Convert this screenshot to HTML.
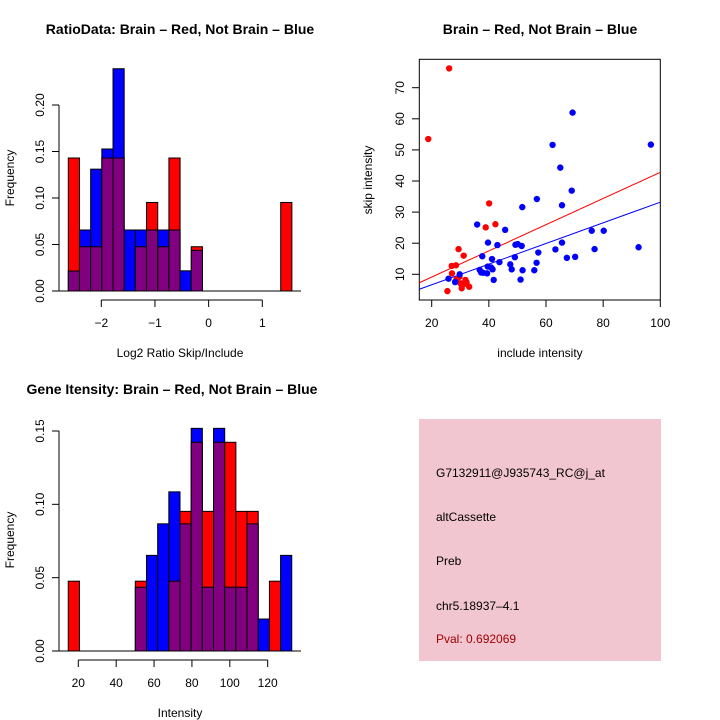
<!DOCTYPE html>
<html><head><meta charset="utf-8"><style>
html,body{margin:0;padding:0;background:#fff}
svg{display:block;font-family:"Liberation Sans",sans-serif}
</style></head><body>
<svg id="c" width="720" height="720" viewBox="0 0 720 720" xmlns="http://www.w3.org/2000/svg">
<rect width="720" height="720" fill="#fff"/>
<text x="180" y="34" text-anchor="middle" font-size="14" font-weight="bold">RatioData: Brain – Red, Not Brain – Blue</text>
<text x="540" y="34" text-anchor="middle" font-size="14" font-weight="bold">Brain – Red, Not Brain – Blue</text>
<text x="172" y="394" text-anchor="middle" font-size="14" font-weight="bold">Gene Itensity: Brain – Red, Not Brain – Blue</text>
<text x="180" y="357" text-anchor="middle" font-size="12">Log2 Ratio Skip/Include</text>
<text x="14" y="178" text-anchor="middle" font-size="12" transform="rotate(-90 14 178)">Frequency</text>
<text x="540" y="357" text-anchor="middle" font-size="12">include intensity</text>
<text x="372" y="180" text-anchor="middle" font-size="12" transform="rotate(-90 372 180)">skip intensity</text>
<text x="180" y="717" text-anchor="middle" font-size="12">Intensity</text>
<text x="14" y="540" text-anchor="middle" font-size="12" transform="rotate(-90 14 540)">Frequency</text>
<g>
<rect x="419" y="419" width="242" height="242" fill="#f2c6d0"/>
<text x="436" y="477" font-size="12">G7132911@J935743_RC@j_at</text>
<text x="436" y="521" font-size="12">altCassette</text>
<text x="436" y="565" font-size="12">Preb</text>
<text x="436" y="610" font-size="12">chr5.18937–4.1</text>
<text x="436" y="643" font-size="12" fill="#a00000">Pval: 0.692069</text>
</g>
</svg>
<script>
// Ratio histogram data
const ratioBreakStart = -2.615;
const ratioBinWidth = 0.2083;
const ratioRed = [0.143,0.0476,0.0476,0.143,0.143,0,0.0476,0.0952,0.0476,0.143,0,0.0476,0,0,0,0,0,0,0,0.0952];
const ratioBlue = [0.0215,0.0656,0.131,0.1527,0.239,0.0656,0.0656,0.0656,0.0656,0.0656,0.0217,0.0437,0,0,0,0,0,0,0,0];
const ratioXTicks = [-2,-1,0,1];
const ratioYTicks = [0,0.05,0.10,0.15,0.20];
const ratioYLabels = ["0.00","0.05","0.10","0.15","0.20"];
// Intensity histogram data
const intBreakStart = 14.7;
const intBinWidth = 5.9;
const intRed = [0.0476,0,0,0,0,0,0.0476,0,0,0.0476,0.0952,0.1423,0.0952,0.1423,0.1423,0.0952,0.0952,0,0.0476,0];
const intBlue = [0,0,0,0,0,0,0.0435,0.0652,0.0867,0.1085,0.0867,0.1518,0.0435,0.1518,0.0435,0.0435,0.0867,0.0218,0,0.0652];
const intXTicks = [20,40,60,80,100,120];
const intYTicks = [0,0.05,0.10,0.15];
const intYLabels = ["0.00","0.05","0.10","0.15"];
// Scatter data
const redX = [26.1,18.8,40.1,38.9,42.3,29.4,31.2,27.0,28.5,27.1,29.7,28.7,31.8,30.1,31.3,30.5,33.1,25.5,32.2];
const redY = [76.2,53.5,32.8,25.1,26.1,18.1,16.0,12.7,12.9,10.3,9.2,8.4,8.2,7.1,6.9,5.5,6.0,4.6,7.4];
const blueX = [69.3,62.3,96.7,65.0,69.0,56.8,65.6,51.7,35.9,45.7,76.0,80.2,39.7,65.6,43.0,49.3,50.1,51.5,92.4,63.3,77.0,57.3,37.7,41.1,49.1,67.3,70.2,43.7,47.5,56.7,39.6,40.8,36.8,41.3,48.0,51.8,55.9,37.3,38.0,39.4,29.8,25.9,28.2,41.7,51.1];
const blueY = [62.0,51.6,51.7,44.3,36.9,34.2,32.2,31.6,26.0,24.3,24.0,24.0,20.2,20.2,19.4,19.5,19.7,19.1,18.7,18.0,18.1,17.0,15.8,14.9,15.5,15.3,15.6,13.9,13.2,13.7,12.5,12.2,11.4,11.6,11.6,11.3,11.3,10.6,10.5,10.3,10.0,8.6,7.5,8.2,8.3];
const fitRed = [0.69,0.421];
const fitBlue = [-0.01,0.332];
const scXTicks = [20,40,60,80,100];
const scYTicks = [10,20,30,40,50,60,70];

const NS="http://www.w3.org/2000/svg";
const svg=document.getElementById('c');
function mk(tag,attrs,parent){const e=document.createElementNS(NS,tag);for(const k in attrs)e.setAttribute(k,attrs[k]);(parent||svg).appendChild(e);return e;}

function histogram(g,start,w,red,blue,sx,sy){
  for(let i=0;i<red.length;i++){
    const x0=sx(start+i*w),x1=sx(start+(i+1)*w);
    const r=red[i],b=blue[i];
    const hi=Math.max(r,b),lo=Math.min(r,b);
    if(hi>0){
      const bar=mk('rect',{x:x0,y:sy(hi),width:x1-x0,height:sy(0)-sy(hi),fill:r>=b?'#ff0000':'#0000ff',stroke:'#000','stroke-width':1},g);
      
      
    }
    if(lo>0){
      const p=mk('rect',{x:x0,y:sy(lo),width:x1-x0,height:sy(0)-sy(lo),fill:'#800080',stroke:'#000','stroke-width':1},g);
      
      
    }
  }
}
function yAxis(g,x,ticks,labels,sy){
  mk('line',{x1:x,x2:x,y1:sy(ticks[0]),y2:sy(ticks[ticks.length-1]),stroke:'#000'},g);
  ticks.forEach((t,i)=>{
    mk('line',{x1:x-7,x2:x,y1:sy(t),y2:sy(t),stroke:'#000'},g);
    const tx=mk('text',{x:x-15,y:sy(t),'text-anchor':'middle','font-size':12,transform:`rotate(-90 ${x-15} ${sy(t)})`},g);
    tx.textContent=labels[i];
    
    
  });
}
function xAxis(g,y,ticks,sx){
  mk('line',{x1:sx(ticks[0]),x2:sx(ticks[ticks.length-1]),y1:y,y2:y,stroke:'#000'},g);
  ticks.forEach(t=>{
    mk('line',{x1:sx(t),x2:sx(t),y1:y,y2:y+7,stroke:'#000'},g);
    const tx=mk('text',{x:sx(t),y:y+27,'text-anchor':'middle','font-size':12},g);
    tx.textContent=(t<0?'−'+(-t):String(t));
    
    
  });
}

// Ratio histogram
{
  const g=mk('g',{});
  
  
  const sx=v=>101.3+(v+2)*53.67, sy=v=>291-v*930;
  histogram(g,ratioBreakStart,ratioBinWidth,ratioRed,ratioBlue,sx,sy);
  mk('line',{x1:52,x2:301,y1:291,y2:291,stroke:'#000'},g);
  yAxis(g,59,ratioYTicks,ratioYLabels,sy);
  xAxis(g,300,ratioXTicks,sx);
}
// Intensity histogram
{
  const g=mk('g',{});
  
  
  const sx=v=>78.3+(v-20)*1.894, sy=v=>651-v*1466.7;
  histogram(g,intBreakStart,intBinWidth,intRed,intBlue,sx,sy);
  mk('line',{x1:52,x2:301,y1:651,y2:651,stroke:'#000'},g);
  yAxis(g,59,intYTicks,intYLabels,sy);
  xAxis(g,660,intXTicks,sx);
}
// Scatter
{
  const g=mk('g',{});
  
  
  const sx=v=>431.7+(v-20)*2.8575, sy=v=>274.3-(v-10)*3.11;
  const cp=mk('clipPath',{id:'scclip'},g);
  mk('rect',{x:419.3,y:59.3,width:241,height:240.7},cp);
  mk('rect',{x:419.3,y:59.3,width:241,height:240.7,fill:'none',stroke:'#000'},g);
  const ticksY=scYTicks;
  ticksY.forEach(t=>{
    mk('line',{x1:412,x2:419.3,y1:sy(t),y2:sy(t),stroke:'#000'},g);
    const tx=mk('text',{x:404,y:sy(t),'text-anchor':'middle','font-size':12,transform:`rotate(-90 404 ${sy(t)})`},g);
    tx.textContent=t;
    
    
  });
  scXTicks.forEach(t=>{
    mk('line',{x1:sx(t),x2:sx(t),y1:300,y2:307,stroke:'#000'},g);
    const tx=mk('text',{x:sx(t),y:327,'text-anchor':'middle','font-size':12},g);
    tx.textContent=t;
    
    
  });
  const lg=mk('g',{'clip-path':'url(#scclip)'},g);
  [[fitRed,'#ff0000','fit-line-red'],[fitBlue,'#0000ff','fit-line-blue']].forEach(([f,c,n])=>{
    const l=mk('line',{x1:sx(15.66),y1:sy(f[0]+f[1]*15.66),x2:sx(100),y2:sy(f[0]+f[1]*100),stroke:c,'stroke-width':1},lg);
    
    
  });
  redX.forEach((x,i)=>{
    const p=mk('circle',{cx:sx(x),cy:sy(redY[i]),r:3.2,fill:'#ff0000'},lg);
    
    
  });
  blueX.forEach((x,i)=>{
    const p=mk('circle',{cx:sx(x),cy:sy(blueY[i]),r:3.2,fill:'#0000ff'},lg);
    
    
  });
}
</script>
</body></html>
